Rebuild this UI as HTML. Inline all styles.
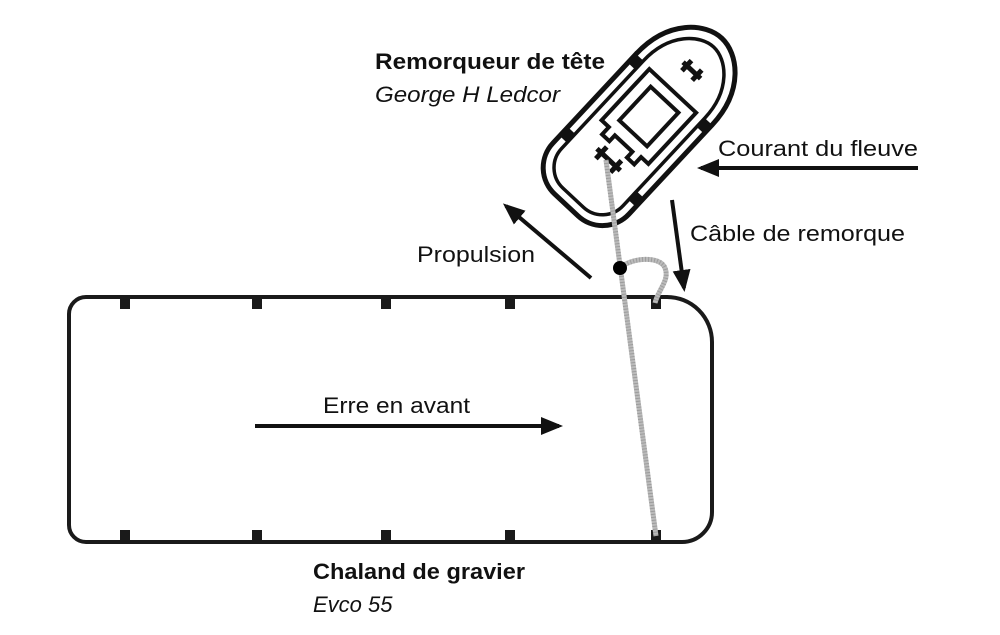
<!DOCTYPE html>
<html><head><meta charset="utf-8"><style>
html,body{margin:0;padding:0;background:#fff;width:1000px;height:635px;overflow:hidden}
text{font-family:"Liberation Sans",sans-serif;fill:#111}
</style></head><body>
<svg width="1000" height="635" viewBox="0 0 1000 635" xmlns="http://www.w3.org/2000/svg">
<defs>
<marker id="ah" markerWidth="22" markerHeight="18" refX="18" refY="9" orient="auto" markerUnits="userSpaceOnUse" viewBox="0 0 22 18"><path d="M0,0 L22,9 L0,18 Z" fill="#111"/></marker>
</defs>
<!-- barge -->
<path d="M86,297 H667 A45,45 0 0 1 712,342 V512 A30,30 0 0 1 682,542 H86 A17,17 0 0 1 69,525 V314 A17,17 0 0 1 86,297 Z" fill="none" stroke="#1a1a1a" stroke-width="4"/>
<g fill="#1a1a1a">
<rect x="120" y="297" width="10" height="12"/><rect x="252" y="297" width="10" height="12"/><rect x="381" y="297" width="10" height="12"/><rect x="505" y="297" width="10" height="12"/><rect x="651" y="297" width="10" height="12"/>
<rect x="120" y="530" width="10" height="12"/><rect x="252" y="530" width="10" height="12"/><rect x="381" y="530" width="10" height="12"/><rect x="505" y="530" width="10" height="12"/><rect x="651" y="530" width="10" height="12"/>
</g>
<!-- tug -->
<g transform="translate(640,126) rotate(-47)">
<path d="M-72,-52 H50 C97,-52 120,-22 120,0 C120,22 97,52 50,52 H-72 A36,36 0 0 1 -108,16 V-16 A36,36 0 0 1 -72,-52 Z" fill="#fff" stroke="#111" stroke-width="5"/>
<path d="M-70,-42 H50 C88,-42 108,-18 108,0 C108,18 88,42 50,42 H-70 A28,28 0 0 1 -98,14 V-14 A28,28 0 0 1 -70,-42 Z" fill="none" stroke="#111" stroke-width="3.5"/>
<g fill="#111"><rect x="-62" y="-54" width="12" height="12"/><rect x="-62" y="42" width="12" height="12"/><rect x="38" y="-54" width="12" height="12"/><rect x="38" y="42" width="12" height="12"/></g>
<path d="M-22,-32 H48 V32 H-22 V22 H-32 V12 H-24 V-12 H-32 V-22 H-22 Z" fill="none" stroke="#111" stroke-width="4"/>
<rect x="-10" y="-19" width="46" height="38" fill="none" stroke="#111" stroke-width="4"/>
<g fill="none" stroke="#111" stroke-width="5"><path d="M-46,-16 V16 M-54,-10 H-38 M-54,10 H-38"/><path d="M76,-12 V12 M69,-7 H83 M69,7 H83"/></g>
</g>
<!-- cable -->
<line x1="606" y1="160" x2="656" y2="536" stroke="#bbb" stroke-width="5"/>
<line x1="606" y1="160" x2="656" y2="536" stroke="#888" stroke-width="5" stroke-dasharray="1,2" opacity="0.6"/>
<path d="M620,268 C630,258 660,255 665,268 C670,280 658,290 655,303" fill="none" stroke="#bbb" stroke-width="5"/>
<path d="M620,268 C630,258 660,255 665,268 C670,280 658,290 655,303" fill="none" stroke="#888" stroke-width="5" stroke-dasharray="1,2" opacity="0.6"/>
<circle cx="620" cy="268" r="7" fill="#000"/>
<!-- arrows -->
<g stroke="#111" stroke-width="4" fill="none">
<line x1="591" y1="278" x2="506" y2="206" marker-end="url(#ah)"/>
<line x1="918" y1="168" x2="701" y2="168" marker-end="url(#ah)"/>
<line x1="672" y1="200" x2="684" y2="288" marker-end="url(#ah)"/>
<line x1="255" y1="426" x2="559" y2="426" marker-end="url(#ah)"/>
</g>
<!-- labels -->
<text x="375" y="69" font-size="22" font-weight="bold" textLength="230" lengthAdjust="spacingAndGlyphs">Remorqueur de tête</text>
<text x="375" y="102" font-size="22" font-style="italic" textLength="185" lengthAdjust="spacingAndGlyphs">George H Ledcor</text>
<text x="718" y="156" font-size="22" textLength="200" lengthAdjust="spacingAndGlyphs">Courant du fleuve</text>
<text x="690" y="241" font-size="22" textLength="215" lengthAdjust="spacingAndGlyphs">Câble de remorque</text>
<text x="417" y="262" font-size="22" textLength="118" lengthAdjust="spacingAndGlyphs">Propulsion</text>
<text x="323" y="413" font-size="22" textLength="147" lengthAdjust="spacingAndGlyphs">Erre en avant</text>
<text x="313" y="579" font-size="22" font-weight="bold" textLength="212" lengthAdjust="spacingAndGlyphs">Chaland de gravier</text>
<text x="313" y="612" font-size="22" font-style="italic">Evco 55</text>
</svg>
</body></html>
